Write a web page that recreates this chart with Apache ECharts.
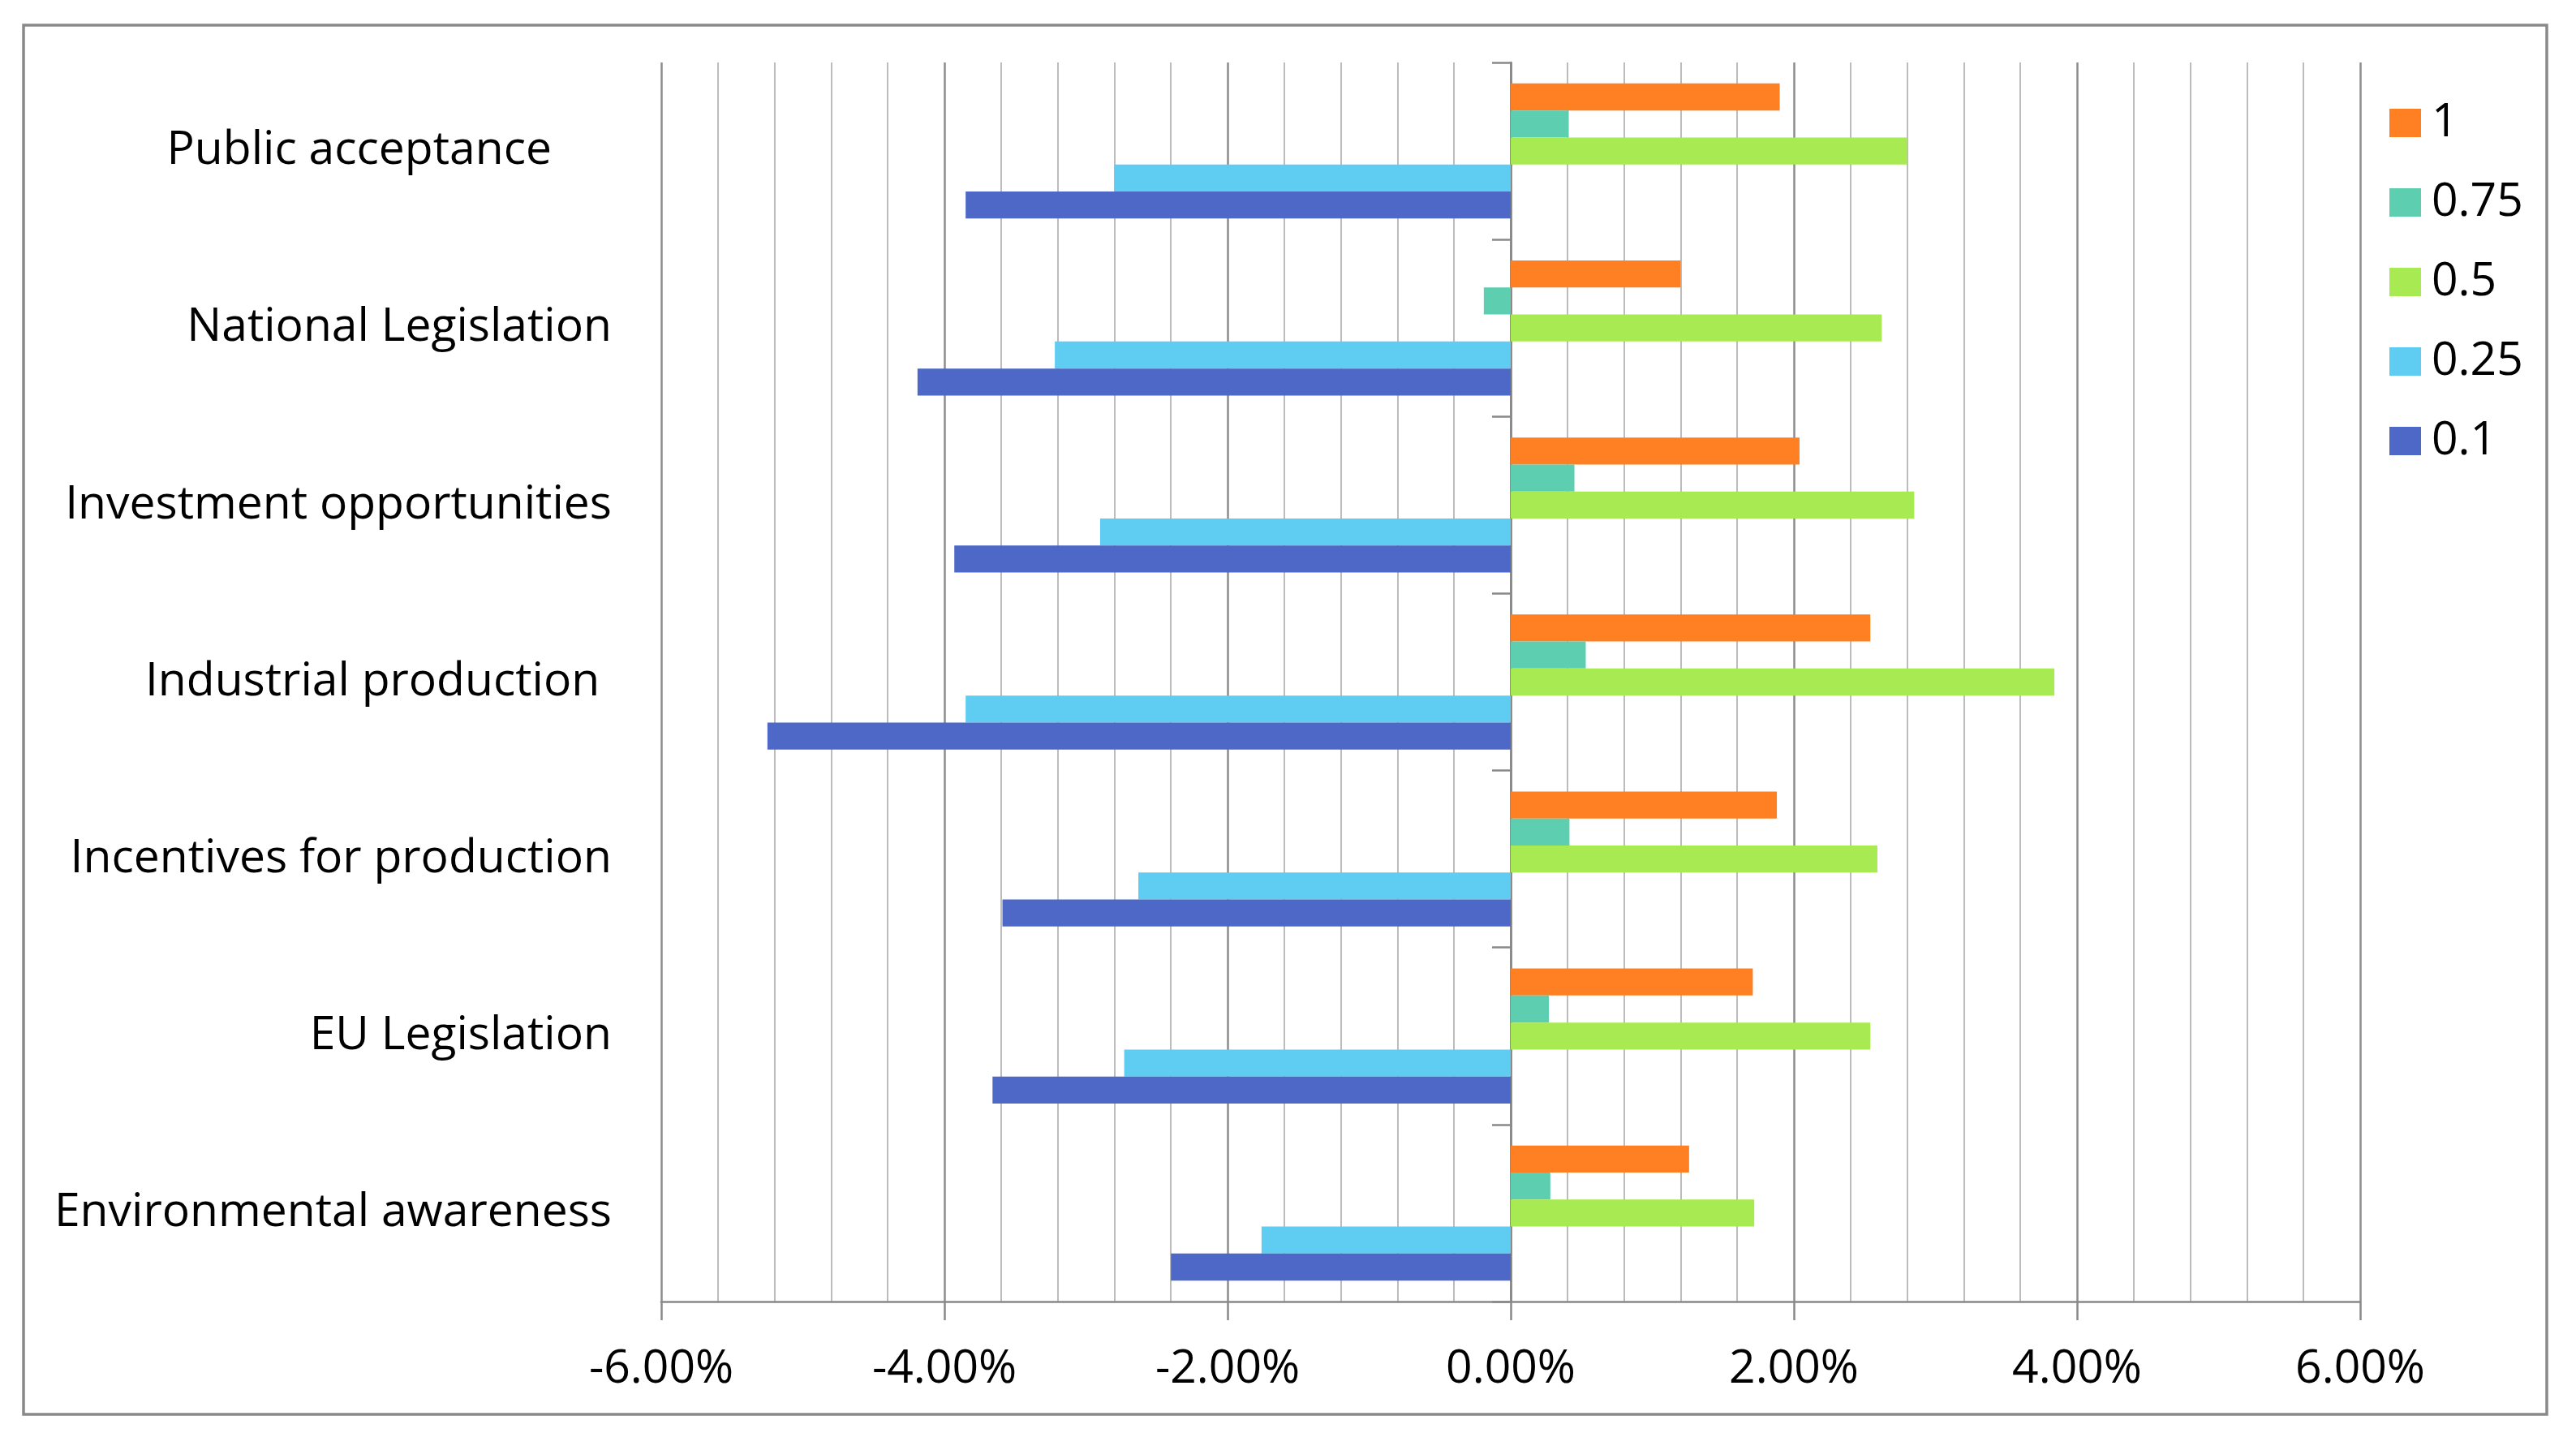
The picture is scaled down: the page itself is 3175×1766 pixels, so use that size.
<!DOCTYPE html>
<html>
<head>
<meta charset="utf-8">
<script src="https://cdn.jsdelivr.net/npm/echarts@6/dist/echarts.min.js"></script>
<style>
html,body{margin:0;padding:0;background:#ffffff;}
#chart{width:3175px;height:1766px;}
</style>
</head>
<body>
<div id="chart"></div>
<script>
// Categories, top to bottom (trailing spaces as in the source labels)
const categories = [
  "Public acceptance     ",
  "National Legislation",
  "Investment opportunities",
  "Industrial production ",
  "Incentives for production",
  "EU Legislation",
  "Environmental awareness"
];
const seriesNames = ["1", "0.75", "0.5", "0.25", "0.1"];
// values in percent
const values_1    = [1.90, 1.20, 2.04, 2.54, 1.88, 1.71, 1.26];
const values_075  = [0.41, -0.19, 0.45, 0.53, 0.415, 0.27, 0.28];
const values_05   = [2.80, 2.62, 2.85, 3.84, 2.59, 2.54, 1.72];
const values_025  = [-2.80, -3.22, -2.90, -3.85, -2.63, -2.73, -1.76];
const values_01   = [-3.85, -4.19, -3.93, -5.25, -3.59, -3.66, -2.40];
const xMin = -6, xMax = 6, xInterval = 2;

const colors = ["#FF8022", "#5ECEB0", "#A8EA52", "#5FCCF2", "#4D68C7"];
const seriesValues = [values_1, values_075, values_05, values_025, values_01];

const FONT = "'Open Sans', 'Noto Sans', sans-serif";
const FS = 57;

const chart = echarts.init(document.getElementById('chart'), null, {renderer: 'canvas'});

const option = {
  animation: false,
  backgroundColor: '#ffffff',
  textStyle: {fontFamily: FONT},
  graphic: [{
    type: 'rect',
    shape: {x: 29, y: 31, width: 3110, height: 1712},
    style: {fill: 'none', stroke: '#898989', lineWidth: 3.5},
    silent: true,
    z: -1
  }],
  grid: {left: 815, right: 266, top: 77, bottom: 162, containLabel: false, outerBoundsMode: 'none'},
  legend: {
    orient: 'vertical',
    left: 2940,
    top: 118,
    itemWidth: 39,
    itemHeight: 35,
    itemGap: 41,
    icon: 'rect',
    data: seriesNames,
    textStyle: {fontFamily: FONT, fontSize: FS, lineHeight: 57, color: '#000000', padding: [0, 0, 0, 8]}
  },
  xAxis: {
    type: 'value',
    min: xMin, max: xMax, interval: xInterval,
    axisLine: {show: true, onZero: false, lineStyle: {color: '#898989', width: 2.7}},
    axisTick: {show: true, length: 23, lineStyle: {color: '#898989', width: 2.5}},
    axisLabel: {
      show: true, margin: 55, color: '#000000', fontFamily: FONT, fontSize: FS,
      formatter: v => v.toFixed(2) + '%'
    },
    splitLine: {show: true, lineStyle: {color: '#8c8c8c', width: 2.5}},
    minorTick: {show: false, splitNumber: 5},
    minorSplitLine: {show: true, lineStyle: {color: '#bcbcbc', width: 2}}
  },
  yAxis: [{
    type: 'category',
    data: categories,
    inverse: true,
    position: 'left',
    axisLine: {show: false, onZero: false},
    axisTick: {show: false},
    axisLabel: {show: true, margin: 61, color: '#000000', fontFamily: FONT, fontSize: FS},
    splitLine: {show: false}
  }, {
    type: 'category',
    data: categories,
    inverse: true,
    position: 'left',
    axisLine: {show: true, onZero: true, lineStyle: {color: '#898989', width: 2.7}},
    axisTick: {show: true, length: 23, lineStyle: {color: '#898989', width: 2.5}},
    axisLabel: {show: false},
    splitLine: {show: false}
  }],
  series: seriesNames.map((name, i) => ({
    name: name,
    type: 'bar',
    xAxisIndex: 0,
    yAxisIndex: 0,
    data: seriesValues[i],
    itemStyle: {color: colors[i]},
    barGap: '0%',
    barCategoryGap: '23.7%'
  }))
};
chart.setOption(option);
</script>
</body>
</html>
